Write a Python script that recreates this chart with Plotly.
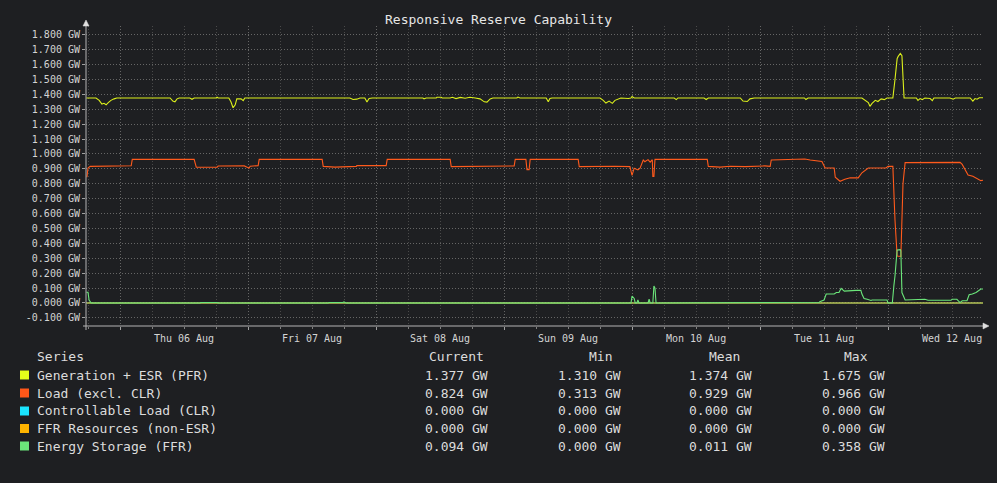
import pandas as pd
import plotly.graph_objects as go

# hours are counted from 2020-08-05 00:00
T0 = pd.Timestamp("2020-08-05")

gen_hours = [17.7, 19.5, 20.1, 20.6, 21.0,
             21.4, 21.8, 22.3, 22.9, 23.4,
             33.4, 33.9, 34.3, 34.7, 35.1,
             37.1, 37.5, 37.9, 42.0, 42.2,
             42.4, 44.4, 44.8, 45.2, 45.6,
             45.9, 46.7, 47.1, 47.4, 67.1,
             67.7, 68.4, 69.0, 69.9, 70.3,
             70.7, 71.3, 80.8, 81.0, 81.4,
             83.3, 83.4, 84.2, 84.4, 85.9,
             86.3, 87.0, 87.8, 88.7, 89.6,
             90.6, 91.5, 92.3, 92.8, 93.4,
             93.9, 98.4, 98.6, 99.0, 103.9,
             104.3, 104.6, 105.0, 114.0, 114.6,
             115.1, 115.7, 116.3, 116.8, 117.4,
             117.9, 119.3, 119.8, 120.0, 120.4,
             127.9, 128.3, 128.6, 133.5, 133.9,
             134.3, 140.3, 140.8, 141.6, 142.1,
             142.9, 152.3, 152.6, 153.0, 163.1,
             163.7, 164.3, 164.6, 165.0, 165.6,
             166.1, 166.7, 167.3, 167.8, 168.9,
             169.3, 169.7, 169.9, 170.3, 170.6,
             171.0, 173.3, 173.6, 174.0, 174.4,
             174.9, 175.9, 176.3, 176.6, 179.6,
             180.2, 180.6, 183.4, 183.9, 184.3,
             184.7, 185.1, 185.8]
gen_gw = [1.376, 1.376, 1.36, 1.335, 1.34,
          1.33, 1.345, 1.36, 1.37, 1.376,
          1.376, 1.355, 1.35, 1.37, 1.376,
          1.376, 1.367, 1.376, 1.376, 1.381,
          1.376, 1.376, 1.35, 1.31, 1.33,
          1.37, 1.37, 1.358, 1.376, 1.376,
          1.366, 1.368, 1.376, 1.376, 1.349,
          1.372, 1.376, 1.376, 1.37, 1.376,
          1.376, 1.381, 1.381, 1.376, 1.376,
          1.381, 1.372, 1.38, 1.374, 1.381,
          1.376, 1.37, 1.35, 1.348, 1.37,
          1.376, 1.376, 1.382, 1.376, 1.376,
          1.35, 1.372, 1.376, 1.376, 1.36,
          1.342, 1.355, 1.34, 1.36, 1.368,
          1.376, 1.372, 1.376, 1.386, 1.376,
          1.376, 1.365, 1.376, 1.376, 1.366,
          1.376, 1.376, 1.355, 1.352, 1.37,
          1.376, 1.376, 1.366, 1.376, 1.376,
          1.36, 1.345, 1.32, 1.34, 1.36,
          1.352, 1.37, 1.365, 1.376, 1.376,
          1.5, 1.64, 1.655, 1.675, 1.66,
          1.376, 1.376, 1.36, 1.372, 1.365,
          1.376, 1.372, 1.358, 1.376, 1.376,
          1.368, 1.376, 1.376, 1.355, 1.372,
          1.368, 1.377, 1.377]

load_hours = [17.8, 18.0, 18.4, 22.9, 23.1,
              26.1, 26.3, 37.9, 38.3, 42.2,
              42.4, 45.6, 45.8, 47.3, 48.2,
              48.4, 49.9, 50.1, 61.9, 62.1,
              64.3, 65.3, 66.2, 68.3, 68.4,
              73.9, 74.1, 85.9, 86.1, 90.8,
              91.1, 92.4, 93.4, 95.3, 97.1,
              97.9, 98.1, 100.1, 100.3, 100.7,
              100.9, 109.9, 110.1, 113.1, 114.0,
              114.9, 116.8, 119.6, 120.0, 120.4,
              120.8, 121.1, 121.5, 122.1, 122.4,
              123.0, 123.4, 123.8, 123.9, 124.1,
              124.3, 134.1, 134.3, 136.5, 138.4,
              141.2, 144.9, 145.9, 146.1, 149.6,
              152.4, 153.4, 154.3, 155.6, 156.2,
              157.9, 158.1, 159.0, 159.9, 160.9,
              162.4, 163.1, 164.3, 167.6, 168.0,
              168.9, 169.3, 169.7, 170.4, 170.8,
              171.2, 181.5, 181.9, 183.0, 183.9,
              184.7, 185.4, 185.8]
load_gw = [0.844, 0.906, 0.917, 0.919, 0.921,
           0.921, 0.964, 0.964, 0.911, 0.912,
           0.919, 0.92, 0.922, 0.92, 0.905,
           0.918, 0.922, 0.964, 0.964, 0.917,
           0.912, 0.913, 0.917, 0.917, 0.922,
           0.922, 0.964, 0.964, 0.915, 0.915,
           0.92, 0.917, 0.92, 0.917, 0.92,
           0.92, 0.964, 0.964, 0.895, 0.895,
           0.964, 0.964, 0.915, 0.917, 0.92,
           0.916, 0.918, 0.915, 0.857, 0.905,
           0.897, 0.893, 0.905, 0.96, 0.948,
           0.962, 0.945, 0.962, 0.85, 0.85,
           0.964, 0.964, 0.917, 0.912, 0.918,
           0.915, 0.92, 0.917, 0.96, 0.962,
           0.966, 0.96, 0.955, 0.95, 0.906,
           0.906, 0.844, 0.817, 0.83, 0.84,
           0.84, 0.874, 0.906, 0.906, 0.917,
           0.917, 0.557, 0.315, 0.313, 0.8,
           0.942, 0.944, 0.93, 0.859, 0.85,
           0.833, 0.821, 0.824]

clr_hours = [17.7, 185.8]
clr_gw = [0.0, 0.0]

ffr_hours = [17.7, 185.8]
ffr_gw = [0.0, 0.0]

esr_hours = [17.7, 18.0, 18.2, 18.6, 39.0,
             39.2, 42.2, 42.4, 63.0, 63.2,
             65.8, 66.0, 66.4, 114.0, 114.2,
             114.4, 119.8, 120.0, 120.4, 120.6,
             120.9, 121.1, 121.3, 123.0, 123.2,
             123.4, 123.9, 124.1, 124.3, 124.5,
             135.0, 135.2, 138.2, 138.4, 149.8,
             150.0, 150.2, 153.4, 153.6, 155.1,
             155.3, 156.0, 156.4, 157.9, 158.3,
             158.8, 159.2, 159.8, 162.0, 162.9,
             163.1, 163.5, 164.1, 164.8, 165.0,
             167.8, 168.0, 168.8, 169.1, 169.3,
             169.7, 170.3, 170.4, 170.6, 171.2,
             173.8, 174.0, 174.4, 174.9, 175.5,
             179.8, 180.0, 180.9, 181.5, 181.9,
             182.8, 183.2, 183.8, 184.5, 185.4,
             185.8]
esr_gw = [0.072, 0.072, 0.02, 0.0, 0.0,
          0.003, 0.003, 0.0, 0.0, 0.003,
          0.003, 0.008, 0.0, 0.0, 0.004,
          0.0, 0.0, 0.047, 0.03, 0.0,
          0.0, 0.02, 0.0, 0.0, 0.025,
          0.0, 0.0, 0.114, 0.1, 0.0,
          0.0, 0.005, 0.005, 0.0, 0.0,
          0.005, 0.0, 0.0, 0.005, 0.005,
          0.011, 0.02, 0.06, 0.06, 0.07,
          0.07, 0.098, 0.08, 0.085, 0.085,
          0.06, 0.03, 0.025, 0.017, 0.02,
          0.02, 0.0, 0.0, 0.12, 0.181,
          0.356, 0.358, 0.35, 0.07, 0.02,
          0.02, 0.025, 0.02, 0.025, 0.018,
          0.018, 0.025, 0.025, 0.003, 0.015,
          0.015, 0.055, 0.06, 0.07, 0.094,
          0.094]

y_ticks = [-0.1, 0.0, 0.1, 0.2, 0.3, 0.4, 0.5, 0.6, 0.7, 0.8, 0.9,
           1.0, 1.1, 1.2, 1.3, 1.4, 1.5, 1.6, 1.7, 1.8]
y_labels = ["-0.100 GW", "0.000 GW", "0.100 GW", "0.200 GW", "0.300 GW",
            "0.400 GW", "0.500 GW", "0.600 GW", "0.700 GW", "0.800 GW",
            "0.900 GW", "1.000 GW", "1.100 GW", "1.200 GW", "1.300 GW",
            "1.400 GW", "1.500 GW", "1.600 GW", "1.700 GW", "1.800 GW"]

series_names = ["Generation + ESR (PFR)", "Load (excl. CLR)", "Controllable Load (CLR)",
                "FFR Resources (non-ESR)", "Energy Storage (FFR)"]
series_colors = ["#e4ff1a", "#ff5719", "#1ae4ff", "#ffb400", "#6be67a"]
line_colors = ["#dcf01c", "#ff5a1c", "#1ae4ff", "#ffb400", "#6be67a"]
current_vals = ["1.377 GW", "0.824 GW", "0.000 GW", "0.000 GW", "0.094 GW"]
min_vals = ["1.310 GW", "0.313 GW", "0.000 GW", "0.000 GW", "0.000 GW"]
mean_vals = ["1.374 GW", "0.929 GW", "0.000 GW", "0.000 GW", "0.011 GW"]
max_vals = ["1.675 GW", "0.966 GW", "0.000 GW", "0.000 GW", "0.358 GW"]

BG = "#1e1f22"
FONT = "DejaVu Sans Mono"
W, H = 997, 483
L, R, T, B = 86, 983, 26, 326   # plot area in pixels


def to_time(hours):
    return T0 + pd.to_timedelta(hours, unit="h")


def px2x(px):
    return (px - L) / (R - L)


def py2y(py):
    return (B - py) / (B - T)


fig = go.Figure()

all_series = [
    (gen_hours, gen_gw),
    (load_hours, load_gw),
    (clr_hours, clr_gw),
    (ffr_hours, ffr_gw),
    (esr_hours, esr_gw),
]
for i, (hours, values) in enumerate(all_series):
    fig.add_trace(go.Scatter(
        x=to_time(hours),
        y=values,
        mode="lines",
        name=series_names[i],
        line=dict(color=line_colors[i], width=1.1),
        showlegend=False,
        hoverinfo="skip",
    ))

grid_major = dict(gridcolor="#666666", griddash="1px,2px", gridwidth=1)
grid_minor = dict(gridcolor="#4a4a4a", griddash="1px,2px", gridwidth=1)

fig.update_xaxes(
    type="date",
    range=[to_time(17.625), to_time(185.8)],
    tick0="2020-08-06",
    dtick=86400000,
    ticklabelmode="period",
    tickformat="%a %d %b",
    showgrid=True,
    **grid_major,
    ticks="outside",
    ticklen=3,
    tickcolor="#a0a0a0",
    tickfont=dict(family=FONT, size=10, color="#d4d4d4"),
    minor=dict(dtick=6 * 3600000, showgrid=True, ticks="outside", ticklen=2,
               tickcolor="#808080", **grid_minor),
    zeroline=False,
    showline=False,
)
fig.update_yaxes(
    range=[-0.1544, 1.859],
    tickvals=y_ticks,
    ticktext=y_labels,
    showgrid=True,
    **grid_major,
    ticks="outside",
    ticklen=3,
    tickcolor="#a0a0a0",
    tickfont=dict(family=FONT, size=10, color="#d4d4d4"),
    zeroline=False,
    showline=False,
)

axis_col = "#b4b4b4"
shapes = [
    dict(type="line", xref="paper", yref="paper",
         x0=px2x(83), x1=px2x(985), y0=0, y1=0,
         line=dict(color=axis_col, width=1)),
    dict(type="line", xref="paper", yref="paper",
         x0=0, x1=0, y0=py2y(330), y1=py2y(24),
         line=dict(color=axis_col, width=1)),
    dict(type="path", xref="paper", yref="paper",
         path=f"M {px2x(983)} {py2y(323)} L {px2x(989)} {py2y(326)} L {px2x(983)} {py2y(329)} Z",
         fillcolor="#e0e0e0", line=dict(color="#e0e0e0", width=0.5)),
    dict(type="path", xref="paper", yref="paper",
         path=f"M {px2x(83)} {py2y(26)} L {px2x(86)} {py2y(20)} L {px2x(89)} {py2y(26)} Z",
         fillcolor="#e0e0e0", line=dict(color="#e0e0e0", width=0.5)),
]

annotations = []


def add_text(text, px, py, size=13, color="#dcdcdc"):
    annotations.append(dict(
        text=text, x=px2x(px), y=py2y(py), xref="paper", yref="paper",
        xanchor="left", yanchor="middle", showarrow=False, borderpad=0,
        font=dict(family=FONT, size=size, color=color),
    ))


header_y = 356.5
row_y = [375, 393, 411, 428.5, 446]
add_text("Series", 36, header_y)
add_text("Current", 428, header_y)
add_text("Min", 588, header_y)
add_text("Mean", 707.5, header_y)
add_text("Max", 843, header_y)
for i, name in enumerate(series_names):
    y = row_y[i]
    shapes.append(dict(type="rect", xref="paper", yref="paper",
                       x0=px2x(20), x1=px2x(29), y0=py2y(y - 4.5), y1=py2y(y + 4.5),
                       fillcolor=series_colors[i], line=dict(width=0)))
    add_text(name, 36, y)
    add_text(current_vals[i], 424, y)
    add_text(min_vals[i], 556.5, y)
    add_text(mean_vals[i], 688, y)
    add_text(max_vals[i], 820.5, y)

fig.update_layout(
    width=W,
    height=H,
    margin=dict(l=L, r=W - R, t=T, b=H - B),
    paper_bgcolor=BG,
    plot_bgcolor=BG,
    title=dict(text="Responsive Reserve Capability", x=0.5, xref="container",
               y=1 - 19 / H, yref="container", xanchor="center", yanchor="middle",
               font=dict(family=FONT, size=13, color="#e6e6e6")),
    shapes=shapes,
    annotations=annotations,
    showlegend=False,
)

# drop the browser's default body margin so the figure sits at the page corner
fig.write_html(
    "out.html",
    config={"displayModeBar": False},
    post_script="document.body.style.margin='0';document.body.style.overflow='hidden';"
                "document.body.style.background='" + BG + "';",
)
